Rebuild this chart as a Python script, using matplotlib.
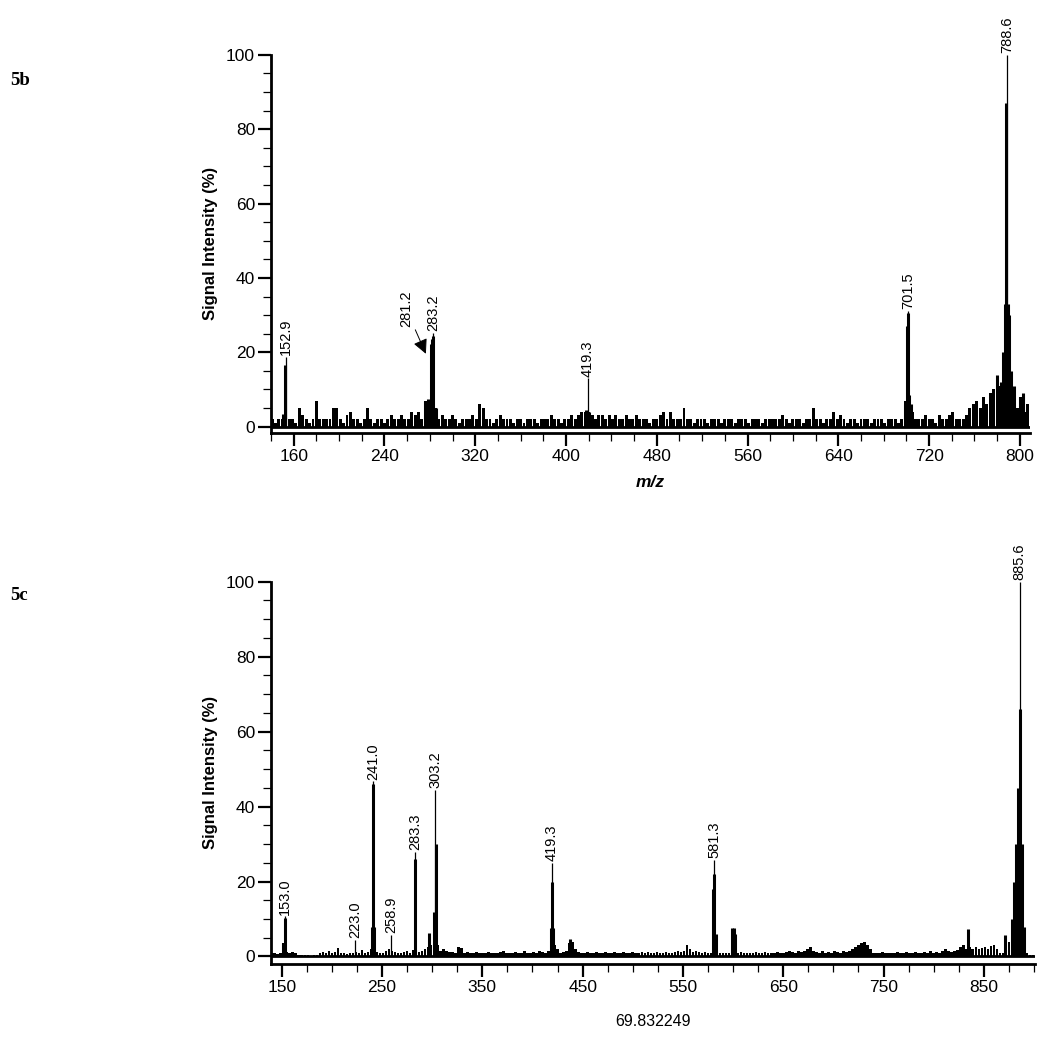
import numpy as np
import matplotlib
matplotlib.use('Agg')
import matplotlib.pyplot as plt
from matplotlib.ticker import FixedLocator, MultipleLocator

plt.rcParams['font.family'] = ['Liberation Sans', 'DejaVu Sans']

# ---- 5b data ----
# baseline noise, one value every 3 m/z starting at 141
b_noise_start = 141
b_noise = [2,1,2,2,3,2,2,1,5,3, 2,1,2,7,2,2,2,2,5,5,
           2,1,3,4,2,2,1,2,5,2, 1,2,2,1,2,3,2,2,3,2,
           2,4,3,4,2,7,5,7,5,2, 3,2,2,3,2,1,2,2,2,3,
           2,6,5,2,2,1,2,3,2,2, 2,1,2,2,1,2,2,2,1,2,
           2,2,3,2,2,1,2,2,3,2, 3,4,4,4,3,2,3,3,2,3,
           2,3,2,2,3,2,2,3,2,2, 2,1,2,2,3,4,2,4,2,2,
           2,5,2,2,1,2,2,2,1,2, 2,2,1,2,2,2,1,2,2,2,
           1,2,2,2,1,2,2,2,2,2, 3,2,1,2,2,2,1,2,2,5,
           2,2,1,2,2,4,2,3,2,1, 2,2,1,2,2,2,1,2,2,2,
           1,2,2,2,1,2,7,9,4,2, 2,2,3,2,2,1,3,2,2,3,
           4,2,2,2,3,5,6,7,5,8, 6,9,10,8,11,12,10,6,8,5,8,4,6]
b_peak_mz = [150.5, 152.0, 276.0, 278.0, 280.0, 281.2, 282.3, 283.0, 285.0, 418.0, 420.5,
             699.0, 700.5, 701.3, 702.5, 704.0, 780.0, 783.0, 785.0, 786.5, 787.8, 789.5,
             790.5, 792.0, 795.0, 800.0, 803.0]
b_peak_h = [3.5, 16.6, 7.0, 7.4, 6.0, 22.2, 23.5, 24.5, 5.0, 4.5, 4.0,
            6.0, 27.0, 30.5, 8.5, 6.0, 14.0, 12.0, 20.0, 33.0, 87.0, 33.0,
            30.0, 15.0, 11.0, 8.0, 9.0]
b_label_mz = [152.9, 283.2, 419.3, 701.5, 788.6]
b_label_h = [18.8, 25.2, 13.0, 31.2, 100.0]
b_label_txt = ['152.9', '283.2', '419.3', '701.5', '788.6']

# ---- 5c data ----
c_noise_start = 140
c_noise = [1.0,0.8,0.6,1.0,3.5,1.2,1.0,1.2,0.8,0.5,
           0.3,0.3,0.3,0.2,0.3,0.3,1.0,1.2,0.8,1.5,
           1.0,1.2,2.2,1.0,0.8,0.6,1.0,0.8,1.2,1.0,
           1.8,1.0,1.2,2.0,1.5,1.2,1.0,0.8,1.5,2.0,
           1.5,1.2,1.0,0.8,1.2,1.5,1.0,1.8,2.0,1.2,
           1.5,2.0,2.5,3.0,4.5,3.0,1.5,2.0,1.5,1.2,
           1.2,1.0,2.5,2.2,1.0,1.2,0.8,1.0,1.2,0.8,
           1.0,0.8,1.2,1.0,0.8,1.0,1.2,1.5,1.0,0.8,
           1.0,1.2,0.8,1.0,1.5,1.0,0.8,1.2,1.0,1.5,
           1.2,1.0,1.5,2.0,3.0,2.0,1.0,1.2,1.5,3.5,
           4.0,2.0,1.2,1.0,0.8,1.2,1.0,1.0,1.2,0.8,
           1.0,1.2,0.8,1.0,1.2,1.0,0.8,1.2,1.0,1.0,
           1.2,1.0,0.8,1.2,1.0,1.2,0.8,1.0,1.2,1.0,
           0.8,1.2,1.0,1.0,1.2,1.5,1.2,1.5,3.0,2.0,
           1.2,1.5,1.2,1.0,1.2,1.0,1.0,2.5,2.0,1.0,
           1.0,0.8,1.0,1.2,1.5,1.0,1.2,1.0,0.8,1.0,
           1.0,1.2,0.8,1.0,1.2,1.0,0.8,1.0,1.2,1.0,
           1.0,1.2,1.5,1.2,1.0,1.5,1.2,1.5,2.0,2.5,
           1.5,1.2,1.0,1.5,1.0,1.2,1.0,1.5,1.2,1.0,
           1.5,1.2,1.5,2.0,2.5,3.0,3.5,4.0,3.0,2.0,
           1.0,0.8,1.0,1.2,1.0,0.8,1.0,1.0,1.2,0.8,
           1.0,1.2,1.0,0.8,1.2,1.0,1.0,1.2,0.8,1.5,
           1.0,1.2,1.0,1.5,2.0,1.5,1.2,1.5,1.8,2.5,
           3.0,2.0,2.5,2.0,2.5,2.0,2.2,2.5,2.0,2.8,
           3.0,2.0,1.0,1.0,5.0,4.0,4.5,8.0,20.0,8.0,2.0,0.8,0.5,0.3]
c_peak_mz = [151.5, 153.0, 240.0, 241.0, 242.0, 283.3, 296.8, 302.0, 304.0, 418.0, 419.3,
             420.5, 437.0, 580.0, 581.3, 583.0, 599.0, 600.5, 601.5, 834.0, 871.0,
             878.0, 880.0, 882.0, 884.0, 886.5, 888.0, 890.0]
c_peak_h = [3.5, 10.2, 8.0, 46.0, 8.0, 26.0, 6.3, 12.0, 30.0, 7.5, 20.0,
            7.5, 4.8, 18.0, 22.0, 6.0, 7.5, 7.5, 6.0, 7.4, 5.8,
            10.0, 20.0, 30.0, 45.0, 66.0, 30.0, 8.0]
c_label_mz = [153.0, 223.0, 241.0, 258.9, 283.3, 303.2, 419.3, 581.3, 885.6]
c_label_h = [10.7, 4.5, 46.8, 5.8, 28.0, 44.5, 25.0, 25.8, 100.0]
c_label_txt = ['153.0', '223.0', '241.0', '258.9', '283.3', '303.2', '419.3', '581.3', '885.6']

fig = plt.figure(figsize=(10.5, 10.38), dpi=100)


def draw_spectrum(ax, n_start, noise, pk_mz, pk_h, lb_mz, lb_h, lb_txt):
    nx = n_start + 3 * np.arange(len(noise))
    ax.bar(nx, noise, width=2.6, color='black', linewidth=0)
    ax.vlines(pk_mz, 0, pk_h, color='black', lw=2.2)
    ax.vlines(lb_mz, 0, lb_h, color='black', lw=0.9)
    for m, h, t in zip(lb_mz, lb_h, lb_txt):
        ax.text(m, h + 0.4, t, rotation=90, ha='center', va='bottom',
                fontsize=10.5, clip_on=False)
    ax.axhline(0, color='black', lw=2)
    for s in ['top', 'right']:
        ax.spines[s].set_visible(False)
    for s in ['left', 'bottom']:
        ax.spines[s].set_linewidth(2)
    ax.yaxis.set_major_locator(MultipleLocator(20))
    ax.yaxis.set_minor_locator(MultipleLocator(5))
    ax.tick_params(which='major', length=9.5, width=1.6, labelsize=12.5, pad=2)
    ax.tick_params(which='minor', length=5.5, width=0.9)
    ax.set_ylabel('Signal Intensity (%)', fontsize=12, fontweight='bold', labelpad=6)


# top panel 5b
ax1 = fig.add_axes([0.2581, 0.5829, 0.7229, 0.3642])
draw_spectrum(ax1, b_noise_start, b_noise, b_peak_mz, b_peak_h,
              b_label_mz, b_label_h, b_label_txt)
ax1.set_xlim(140, 809)
ax1.set_ylim(-1.7, 100)
ax1.xaxis.set_major_locator(MultipleLocator(80))
ax1.xaxis.set_minor_locator(MultipleLocator(20))
ax1.set_xlabel('m/z', fontsize=12.5, fontweight='bold', style='italic', labelpad=8)
ax1.annotate('281.2', xy=(276.5, 19.6), xytext=(259, 26.8), rotation=90,
             ha='center', va='bottom', fontsize=10.5,
             arrowprops=dict(arrowstyle='-|>', color='black', lw=0.7,
                             mutation_scale=22, shrinkA=0, shrinkB=0))

# bottom panel 5c
ax2 = fig.add_axes([0.2581, 0.0713, 0.7276, 0.3683])
draw_spectrum(ax2, c_noise_start, c_noise, c_peak_mz, c_peak_h,
              c_label_mz, c_label_h, c_label_txt)
ax2.set_xlim(139.3, 901)
ax2.set_ylim(-2, 100)
ax2.xaxis.set_major_locator(FixedLocator([150, 250, 350, 450, 550, 650, 750, 850]))
ax2.xaxis.set_minor_locator(MultipleLocator(25))

fig.text(0.0095, 0.9225, '5b', family='Liberation Serif', fontweight='bold', fontsize=13.5,
         va='center')
fig.text(0.0095, 0.4265, '5c', family='Liberation Serif', fontweight='bold', fontsize=13.5,
         va='center')
fig.text(0.622, 1 - 1022 / 1038, '69.832249', fontsize=11.5, ha='center', va='center')

fig.savefig('out.png', dpi=100)
